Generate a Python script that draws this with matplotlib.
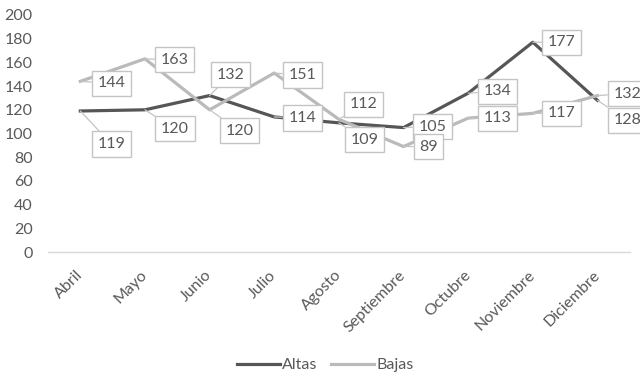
import matplotlib.pyplot as plt
import matplotlib.transforms as mtransforms

meses = ["Abril", "Mayo", "Junio", "Julio", "Agosto", "Septiembre",
         "Octubre", "Noviembre", "Diciembre"]
altas = [119, 120, 132, 114, 109, 105, 134, 177, 128]
bajas = [144, 163, 120, 151, 112, 89, 113, 117, 132]

# desplazamiento de cada etiqueta respecto a su punto (pixeles)
off_altas = [(31, -33), (30, -19), (21, 21), (28, -1), (26, -17),
             (29, 1), (29, 2), (29, 0), (30, -20)]
off_bajas = [(31, -2), (30, -1), (30, -21), (28, -2), (25, 15),
             (25, 0), (29, 0), (29, 0), (30, 2)]

gris_texto = "#595959"
plt.rcParams["font.family"] = ["Lato", "DejaVu Sans"]

fig = plt.figure(figsize=(6.4, 3.74), dpi=100)
ax = fig.add_axes([0.075, 0.326, 0.909, 0.634])

x = range(len(meses))
ax.plot(x, altas, color="#565656", lw=2.3, label="Altas", zorder=2)
ax.plot(x, bajas, color="#bababa", lw=2.3, label="Bajas", zorder=2)


def etiquetas(valores, offsets):
    for i, (v, (dx, dy)) in enumerate(zip(valores, offsets)):
        ax.annotate(str(v), (i, v), xytext=(dx, dy), textcoords="offset pixels",
                    ha="center", va="center", fontsize=11.5, color=gris_texto,
                    bbox=dict(boxstyle="square,pad=0.35", fc="white",
                              ec="#c4c4c4", lw=1),
                    arrowprops=dict(arrowstyle="-", color="#c4c4c4", lw=0.9,
                                    shrinkA=0, shrinkB=0),
                    annotation_clip=False, zorder=3)


etiquetas(altas, off_altas)
etiquetas(bajas, off_bajas)

ax.set_xlim(-0.5, len(meses) - 0.5)
ax.set_ylim(0, 200)
ax.set_yticks(range(0, 201, 20))
ax.set_xticks(list(x))
ax.set_xticklabels(meses, rotation=45, ha="right", va="center",
                   rotation_mode="anchor")
shift = mtransforms.ScaledTranslation(6 / 100, 0, fig.dpi_scale_trans)
for lbl in ax.get_xticklabels():
    lbl.set_transform(lbl.get_transform() + shift)

ax.tick_params(axis="both", length=0, labelsize=11.5, colors=gris_texto)
ax.tick_params(axis="x", pad=15)
ax.tick_params(axis="y", pad=11)
for side in ["top", "right", "left"]:
    ax.spines[side].set_visible(False)
ax.spines["bottom"].set_color("#d9d9d9")
ax.spines["bottom"].set_linewidth(1)

fig.legend(loc="center", bbox_to_anchor=(0.508, 0.024), ncol=2, frameon=False,
           fontsize=11.5, handlelength=2.7, handletextpad=0.1, columnspacing=0.9,
           labelcolor=gris_texto)

fig.savefig("out.png", dpi=100)
